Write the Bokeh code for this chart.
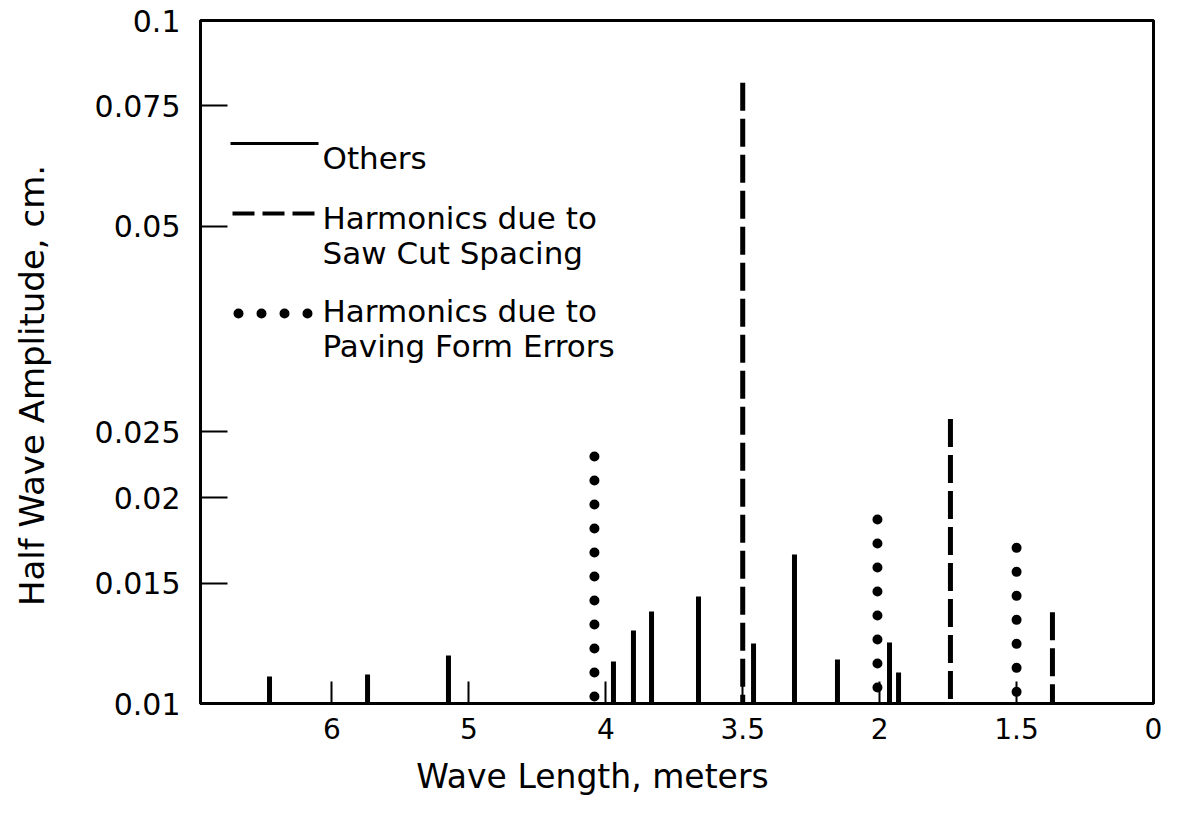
import math
from bokeh.plotting import figure
from bokeh.models import Range1d, FixedTicker, Label
from bokeh.embed import file_html
from bokeh.resources import INLINE

# ---- data ----
# x axis: evenly spaced slots 0..6 labelled with wave length (m)
x_tick_pos = [0, 1, 2, 3, 4, 5, 6]
x_tick_labels = ["6", "5", "4", "3.5", "2", "1.5", "0"]
y_ticks = [0.01, 0.015, 0.02, 0.025, 0.05, 0.075, 0.1]
y_tick_labels = ["0.01", "0.015", "0.02", "0.025", "0.05", "0.075", "0.1"]

others_x = [-0.456, 0.260, 0.851, 2.056, 2.202, 2.334, 2.677, 3.079, 3.378, 3.692, 4.072, 4.138]
others_amp = [0.01095, 0.01103, 0.01176, 0.01152, 0.01279, 0.01364, 0.01434, 0.01224, 0.01653, 0.01160, 0.01228, 0.01110]

sawcut_x = [3.0, 4.517, 5.262]
sawcut_amp = [0.0811, 0.0261, 0.0136]

paving_x = [1.917, 3.984, 5.0]
paving_amp = [0.0230, 0.0186, 0.0169]

BASE = 0.01

x_title = "Wave Length, meters"
y_title = "Half Wave Amplitude, cm."

# ---- layout ----
W, H = 1177, 820
FL, FR, FT, FB = 200, 1153, 20, 703
X0, X1 = -0.96, 6.0
Y0, Y1 = 0.01, 0.1
FONT = "DejaVu Sans"


def px_x(pix):
    return X0 + (pix - FL) * (X1 - X0) / (FR - FL)


def px_y(pix):
    lo, hi = math.log10(Y0), math.log10(Y1)
    return 10 ** (lo + (FB - pix) * (hi - lo) / (FB - FT))


p = figure(width=W, height=H, x_range=Range1d(X0, X1), y_range=Range1d(Y0, Y1),
           y_axis_type="log", output_backend="svg", toolbar_location=None,
           min_border_left=FL, min_border_right=W - FR, min_border_top=FT,
           min_border_bottom=H - FB)
p.background_fill_color = "white"
p.border_fill_color = "white"
p.outline_line_color = "black"
p.outline_line_width = 3
p.xgrid.visible = False
p.ygrid.visible = False

# bars
p.segment(x0=others_x, y0=[BASE] * len(others_x), x1=others_x, y1=others_amp,
          line_color="black", line_width=5, line_cap="butt")
p.segment(x0=sawcut_x, y0=sawcut_amp, x1=sawcut_x, y1=[BASE] * len(sawcut_x),
          line_color="black", line_width=5, line_dash="28 8", line_cap="butt")
p.segment(x0=paving_x, y0=paving_amp, x1=paving_x, y1=[BASE] * len(paving_x),
          line_color="black", line_width=10, line_dash="0 24", line_cap="round")

# axes
xa = p.xaxis[0]
xa.ticker = FixedTicker(ticks=x_tick_pos)
xa.major_label_overrides = {i: t for i, t in zip(x_tick_pos, x_tick_labels)}
xa.major_tick_in = 22
xa.major_tick_out = 0
xa.minor_tick_line_color = None
xa.major_tick_line_width = 2
xa.axis_line_width = 3
xa.major_label_text_font = FONT
xa.major_label_text_font_size = "28px"
xa.major_label_text_color = "black"
xa.major_label_standoff = 14

ya = p.yaxis[0]
ya.ticker = FixedTicker(ticks=y_ticks)
ya.major_label_overrides = {v: t for v, t in zip(y_ticks, y_tick_labels)}
ya.major_tick_in = 27
ya.major_tick_out = 0
ya.minor_tick_line_color = None
ya.major_tick_line_width = 2
ya.axis_line_width = 3
ya.major_label_text_font = FONT
ya.major_label_text_font_size = "30px"
ya.major_label_text_color = "black"
ya.major_label_standoff = 20

# axis titles as labels in the side panels, positioned as in the reference
p.add_layout(Label(x=px_x(592), y=px_y(776), text=x_title, text_font=FONT,
                   text_font_size="33px", text_color="black",
                   text_align="center", text_baseline="middle"), "below")
p.add_layout(Label(x=px_x(31), y=px_y(385), text=y_title, text_font=FONT,
                   text_font_size="34px", text_color="black", angle=math.pi / 2,
                   text_align="center", text_baseline="middle"), "left")

# legend (drawn by hand)
p.segment(x0=[px_x(230)], y0=[px_y(143)], x1=[px_x(318)], y1=[px_y(143)],
          line_color="black", line_width=3)
p.segment(x0=[px_x(232)], y0=[px_y(213)], x1=[px_x(318)], y1=[px_y(213)],
          line_color="black", line_width=4, line_dash="22 8")
p.segment(x0=[px_x(238)], y0=[px_y(313)], x1=[px_x(312)], y1=[px_y(313)],
          line_color="black", line_width=10, line_dash="0 23", line_cap="round")

for txt, base in [("Others", 157), ("Harmonics due to", 217), ("Saw Cut Spacing", 252),
                  ("Harmonics due to", 310), ("Paving Form Errors", 345)]:
    p.add_layout(Label(x=px_x(322), y=px_y(base), text=txt, text_font=FONT,
                       text_font_size="31px", text_color="black",
                       text_baseline="alphabetic", text_align="left"))

open("out.html", "w").write(file_html(p, INLINE))
